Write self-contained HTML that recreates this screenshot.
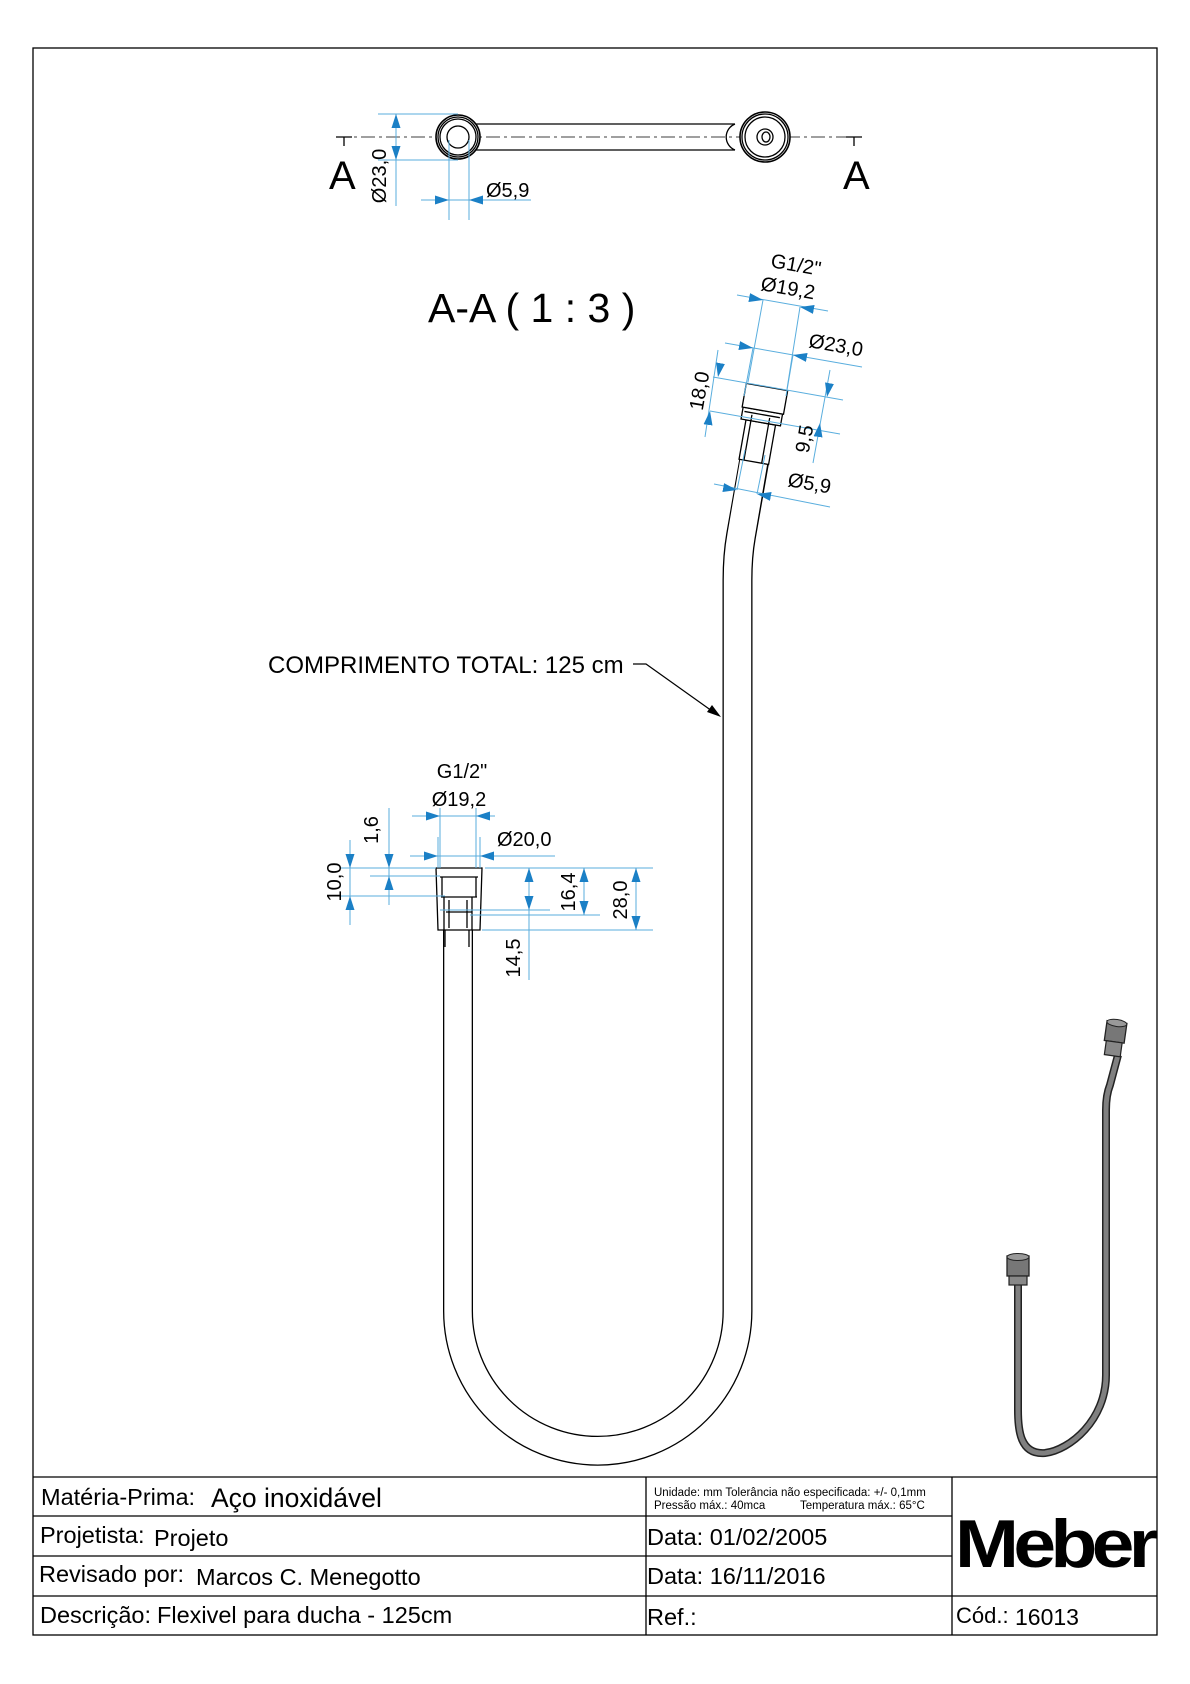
<!DOCTYPE html>
<html><head><meta charset="utf-8"><style>
html,body{margin:0;padding:0;background:#fff;}
svg{display:block;font-family:"Liberation Sans",Arial,sans-serif;}
.k{stroke:#000;fill:none;stroke-width:1.3}
.d{stroke:#5aaede;stroke-width:1;fill:none}
.t{font-size:20px;fill:#000}
</style></head><body>
<svg width="1190" height="1684" viewBox="0 0 1190 1684" xmlns="http://www.w3.org/2000/svg">
<defs>
<marker id="ar" markerUnits="userSpaceOnUse" markerWidth="16" markerHeight="10" refX="14" refY="4.5" orient="auto">
<path d="M0,0 L14,4.5 L0,9 z" fill="#1b80c6"/></marker>
</defs>
<rect x="33" y="48" width="1124" height="1587" fill="none" stroke="#000" stroke-width="1.3"/>

<!-- TOP VIEW -->
<line x1="336" y1="137" x2="862" y2="137" stroke="#000" stroke-width="0.8" stroke-dasharray="14,4,3,4"/>
<path d="M336 137 H352 M344 137 V146 M846 137 H862 M854 137 V146" class="k"/>
<text x="329" y="189" font-size="40">A</text>
<text x="843" y="189" font-size="40">A</text>
<line x1="458" y1="124" x2="735" y2="124" class="k"/>
<line x1="458" y1="150" x2="735" y2="150" class="k"/>
<circle cx="458" cy="137" r="22" fill="#fff" stroke="#000" stroke-width="1.6"/>
<circle cx="458" cy="137" r="20" class="k"/>
<circle cx="458" cy="137" r="18" class="k"/>
<circle cx="458" cy="137" r="11" class="k"/>
<path d="M735 124 A14 14 0 0 0 735 150" class="k"/>
<circle cx="765" cy="137" r="25" fill="#fff" stroke="#000" stroke-width="1.6"/>
<circle cx="765" cy="137" r="23" class="k"/>
<circle cx="765" cy="137" r="20" class="k"/>
<circle cx="765" cy="137" r="8" class="k"/>
<ellipse cx="766" cy="137" rx="4" ry="5" class="k"/>
<!-- dims top -->
<path d="M378 114 H458 M378 160 H458 M396 114 V206 M449 140 V220 M469 140 V220 M421 200 H531" class="d"/>
<line x1="396" y1="129" x2="396" y2="114" stroke="none" marker-end="url(#ar)"/>
<line x1="396" y1="145" x2="396" y2="160" stroke="none" marker-end="url(#ar)"/>
<line x1="433" y1="200" x2="449" y2="200" stroke="none" marker-end="url(#ar)"/>
<line x1="485" y1="200" x2="469" y2="200" stroke="none" marker-end="url(#ar)"/>
<text x="486" y="197" class="t">Ø5,9</text>
<text transform="translate(386,176) rotate(-90)" text-anchor="middle" class="t">Ø23,0</text>

<text x="428" y="322" font-size="41">A-A ( 1 : 3 )</text>

<!-- HOSE -->
<path d="M754 462 L741 536 Q737.5 556 737.5 580 L737.5 1311 A139.75 139.75 0 0 1 458 1311 L458 930" fill="none" stroke="#000" stroke-width="30"/>
<path d="M754 460 L741 536 Q737.5 556 737.5 580 L737.5 1311 A139.75 139.75 0 0 1 458 1311 L458 928" fill="none" stroke="#fff" stroke-width="27.4"/>

<!-- top fitting -->
<g transform="translate(767,387) rotate(10)">
<rect x="-15" y="36" width="30" height="40" fill="#fff" stroke="#000" stroke-width="1.3"/>
<rect x="-20" y="24" width="40" height="12" fill="#fff" stroke="#000" stroke-width="1.3"/>
<rect x="-21" y="0" width="42" height="24" fill="#fff" stroke="#000" stroke-width="1.3"/>
<path d="M-10 30 V76 M8 30 V76 M-18 28 H18" class="k"/>
</g>
<!-- top fitting dims -->
<path d="M737 295 L828 311 M763 300 L748 382 M800 307 L787 389 M725 343 L862 367 M753 348 L744 396 M793 355 L786 396 M718 350 L705 437 M713 377 L843 400 M710 411 L840 434 M830 370 L813 463 M714 484 L830 507 M737 490 L745 450 M757 494 L765 455" class="d"/>
<line x1="749" y1="297.5" x2="763" y2="300" stroke="none" marker-end="url(#ar)"/>
<line x1="814" y1="309.5" x2="800" y2="307" stroke="none" marker-end="url(#ar)"/>
<line x1="739" y1="345.5" x2="753" y2="348" stroke="none" marker-end="url(#ar)"/>
<line x1="807" y1="357.5" x2="793" y2="355" stroke="none" marker-end="url(#ar)"/>
<line x1="720.5" y1="363" x2="718" y2="377" stroke="none" marker-end="url(#ar)"/>
<line x1="708" y1="425" x2="710" y2="411" stroke="none" marker-end="url(#ar)"/>
<line x1="829.5" y1="383" x2="827" y2="397" stroke="none" marker-end="url(#ar)"/>
<line x1="818" y1="437" x2="820" y2="423" stroke="none" marker-end="url(#ar)"/>
<line x1="723" y1="487.5" x2="737" y2="490" stroke="none" marker-end="url(#ar)"/>
<line x1="771" y1="496.5" x2="757" y2="494" stroke="none" marker-end="url(#ar)"/>
<text transform="translate(770,267) rotate(10)" class="t">G1/2"</text>
<text transform="translate(760,290) rotate(10)" class="t">Ø19,2</text>
<text transform="translate(808,347) rotate(10)" class="t">Ø23,0</text>
<text transform="translate(706,392) rotate(-80)" text-anchor="middle" class="t">18,0</text>
<text transform="translate(811,440) rotate(-80)" text-anchor="middle" class="t">9,5</text>
<text transform="translate(787,486) rotate(10)" class="t">Ø5,9</text>

<!-- bottom fitting -->
<path d="M436 868 H482 L480 930 H438 Z" fill="#fff" stroke="#000" stroke-width="1.3"/>
<path d="M440 877 H478 M442 877 V897 M476 877 V897 M441 897 H477 M444 897 V930 M472 897 V930 M449 900 V928 M467 900 V928 M446 912 H472 M445 947 V930 M469 947 V930" class="k"/>
<!-- bottom dims -->
<path d="M412 816 H495 M440 808 V868 M476 808 V868 M410 856 H555 M438 837 V868 M480 837 V868 M340 868 H436 M485 868 H653 M340 896 H445 M370 876 H440 M440 910 H550 M470 915 H600 M482 930 H653 M350 840 V925 M389 808 V905 M529 868 V980 M584 868 V915 M636 868 V930" class="d"/>
<line x1="426" y1="816" x2="440" y2="816" stroke="none" marker-end="url(#ar)"/>
<line x1="490" y1="816" x2="476" y2="816" stroke="none" marker-end="url(#ar)"/>
<line x1="424" y1="856" x2="438" y2="856" stroke="none" marker-end="url(#ar)"/>
<line x1="494" y1="856" x2="480" y2="856" stroke="none" marker-end="url(#ar)"/>
<line x1="350" y1="854" x2="350" y2="868" stroke="none" marker-end="url(#ar)"/>
<line x1="350" y1="910" x2="350" y2="896" stroke="none" marker-end="url(#ar)"/>
<line x1="389" y1="854" x2="389" y2="868" stroke="none" marker-end="url(#ar)"/>
<line x1="389" y1="890" x2="389" y2="876" stroke="none" marker-end="url(#ar)"/>
<line x1="529" y1="882" x2="529" y2="868" stroke="none" marker-end="url(#ar)"/>
<line x1="529" y1="896" x2="529" y2="910" stroke="none" marker-end="url(#ar)"/>
<line x1="584" y1="882" x2="584" y2="868" stroke="none" marker-end="url(#ar)"/>
<line x1="584" y1="901" x2="584" y2="915" stroke="none" marker-end="url(#ar)"/>
<line x1="636" y1="882" x2="636" y2="868" stroke="none" marker-end="url(#ar)"/>
<line x1="636" y1="916" x2="636" y2="930" stroke="none" marker-end="url(#ar)"/>
<text x="462" y="778" text-anchor="middle" class="t">G1/2"</text>
<text x="459" y="806" text-anchor="middle" class="t">Ø19,2</text>
<text x="497" y="846" class="t">Ø20,0</text>
<text transform="translate(341,882) rotate(-90)" text-anchor="middle" class="t">10,0</text>
<text transform="translate(378,830) rotate(-90)" text-anchor="middle" class="t">1,6</text>
<text transform="translate(520,958) rotate(-90)" text-anchor="middle" class="t">14,5</text>
<text transform="translate(575,892) rotate(-90)" text-anchor="middle" class="t">16,4</text>
<text transform="translate(627,900) rotate(-90)" text-anchor="middle" class="t">28,0</text>

<!-- leader -->
<text x="268" y="673" font-size="24">COMPRIMENTO TOTAL: 125 cm</text>
<path d="M633 664 H646 L712 711" fill="none" stroke="#000" stroke-width="1.2"/>
<path d="M721 717 L707 712 L712 705 Z" fill="#000"/>

<!-- iso hose -->
<path d="M1118 1055 L1110 1085 Q1106 1095 1106 1110 L1106 1375 C1106 1420 1070 1450 1045 1453 C1020 1455 1018 1430 1018 1410 L1018 1283" fill="none" stroke="#222" stroke-width="8"/>
<path d="M1118 1055 L1110 1085 Q1106 1095 1106 1110 L1106 1375 C1106 1420 1070 1450 1045 1453 C1020 1455 1018 1430 1018 1410 L1018 1283" fill="none" stroke="#808080" stroke-width="5"/>
<g transform="translate(1117,1022) rotate(8)">
<rect x="-10" y="0" width="20" height="20" fill="#777" stroke="#222" stroke-width="1.3"/>
<rect x="-8" y="20" width="16" height="14" fill="#888" stroke="#222" stroke-width="1.2"/>
<ellipse cx="0" cy="1" rx="10" ry="3.5" fill="#999" stroke="#222"/>
</g>
<g transform="translate(1018,1256)">
<rect x="-11" y="0" width="22" height="20" fill="#777" stroke="#222" stroke-width="1.3"/>
<rect x="-9" y="20" width="18" height="9" fill="#888" stroke="#222" stroke-width="1.2"/>
<ellipse cx="0" cy="1" rx="11" ry="3.5" fill="#999" stroke="#222"/>
</g>

<!-- title block -->
<g stroke="#000" stroke-width="1.3" fill="none">
<path d="M33 1477 H1157 M33 1516 H952 M33 1556 H952 M33 1596 H1157 M646 1477 V1635 M952 1477 V1635"/>
</g>
<text x="41" y="1505" font-size="23.5">Matéria-Prima:</text>
<text x="211" y="1507" font-size="26.5">Aço inoxidável</text>
<text x="40" y="1543" font-size="23.5">Projetista:</text>
<text x="154" y="1546" font-size="23.5">Projeto</text>
<text x="39" y="1582" font-size="23.5">Revisado por:</text>
<text x="196" y="1585" font-size="23.5">Marcos C. Menegotto</text>
<text x="40" y="1623" font-size="23.5">Descrição:</text>
<text x="157" y="1623" font-size="23.5">Flexivel para ducha - 125cm</text>
<text x="654" y="1496" font-size="11.5">Unidade: mm Tolerância não especificada: +/- 0,1mm</text>
<text x="654" y="1509" font-size="11.5">Pressão máx.: 40mca <tspan x="800">Temperatura máx.: 65°C</tspan></text>
<text x="647" y="1545" font-size="23.5">Data: 01/02/2005</text>
<text x="647" y="1584" font-size="23.5">Data: 16/11/2016</text>
<text x="647" y="1625" font-size="23.5">Ref.:</text>
<text x="955" y="1567" font-size="68" font-weight="bold" letter-spacing="-5" textLength="198" lengthAdjust="spacingAndGlyphs">Meber</text>
<text x="956" y="1623" font-size="22">Cód.:</text>
<text x="1015" y="1625" font-size="23">16013</text>
</svg>
</body></html>
